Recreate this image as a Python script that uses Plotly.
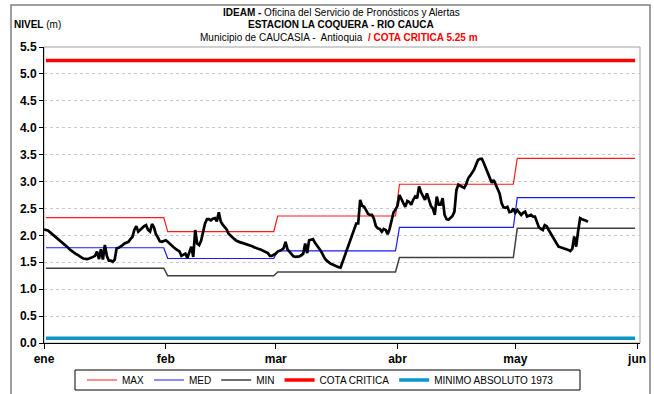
import pandas as pd
import plotly.graph_objects as go

# Monthly reference levels (m)
meses = ["ene", "feb", "mar", "abr", "may", "jun"]
nivel_max = [2.33, 2.07, 2.36, 2.95, 3.43]
nivel_med = [1.77, 1.57, 1.71, 2.15, 2.70]
nivel_min = [1.39, 1.25, 1.32, 1.59, 2.13]
cota_critica = 5.25
minimo_absoluto_1973 = 0.09

# Observed level, two readings per day from 1 January
nivel_observado = [
    2.11, 2.10, 2.09, 2.06, 2.03, 2.00, 1.96, 1.93, 1.91, 1.88, 1.85, 1.81, 1.78, 1.74,
    1.71, 1.69, 1.66, 1.64, 1.61, 1.59, 1.57, 1.56, 1.56, 1.57, 1.58, 1.60, 1.62, 1.70,
    1.56, 1.74, 1.55, 1.82, 1.62, 1.53, 1.53, 1.51, 1.55, 1.76, 1.77, 1.79, 1.82, 1.85,
    1.87, 1.88, 1.93, 1.97, 2.10, 2.17, 2.07, 2.11, 2.13, 2.17, 2.19, 2.10, 2.07, 2.21,
    2.15, 2.02, 1.96, 1.89, 1.88, 1.90, 1.91, 1.88, 1.84, 1.80, 1.78, 1.75, 1.73, 1.70,
    1.62, 1.64, 1.66, 1.58, 1.70, 1.79, 1.60, 2.10, 1.85, 1.82, 1.90, 2.05, 2.22, 2.30,
    2.30, 2.28, 2.31, 2.32, 2.26, 2.43, 2.26, 2.20, 2.16, 2.11, 2.03, 1.99, 1.96, 1.93,
    1.90, 1.88, 1.87, 1.86, 1.85, 1.84, 1.83, 1.81, 1.80, 1.78, 1.76, 1.75, 1.74, 1.72,
    1.71, 1.69, 1.67, 1.62, 1.62, 1.64, 1.66, 1.70, 1.71, 1.73, 1.76, 1.88, 1.74, 1.70,
    1.66, 1.61, 1.60, 1.60, 1.61, 1.63, 1.66, 1.85, 1.67, 1.91, 1.92, 1.93, 1.86, 1.82,
    1.76, 1.71, 1.64, 1.57, 1.53, 1.50, 1.47, 1.46, 1.44, 1.43, 1.41, 1.40, 1.50, 1.59,
    1.70, 1.78, 1.88, 2.00, 2.12, 2.22, 2.22, 2.66, 2.55, 2.53, 2.47, 2.40, 2.38, 2.38,
    2.31, 2.17, 2.13, 2.12, 2.07, 2.12, 2.10, 2.02, 2.12, 2.30, 2.43, 2.48, 2.55, 2.75,
    2.66, 2.60, 2.53, 2.64, 2.62, 2.57, 2.66, 2.72, 2.69, 2.91, 2.80, 2.72, 2.66, 2.78,
    2.65, 2.55, 2.50, 2.38, 2.72, 2.57, 2.57, 2.69, 2.38, 2.30, 2.29, 2.32, 2.36, 2.44,
    2.84, 2.94, 2.92, 2.90, 2.88, 2.95, 3.06, 3.11, 3.16, 3.22, 3.31, 3.40, 3.42, 3.42,
    3.34, 3.24, 3.14, 3.04, 2.98, 3.03, 2.95, 2.85, 2.78, 2.60, 2.52, 2.51, 2.53, 2.43,
    2.44, 2.50, 2.42, 2.47, 2.42, 2.38, 2.42, 2.44, 2.35, 2.36, 2.38, 2.35, 2.35, 2.25,
    2.15, 2.12, 2.10, 2.19, 2.17, 2.10, 2.04, 1.97, 1.91, 1.84, 1.79, 1.78, 1.77, 1.76,
    1.74, 1.73, 1.71, 1.75, 1.98, 1.79, 2.08, 2.32, 2.30, 2.29, 2.27, 2.25,
]

inicio = pd.Timestamp("2014-01-01")
fechas_obs = pd.date_range(inicio, periods=len(nivel_observado), freq="12h")
inicio_meses = pd.date_range(inicio, periods=len(meses), freq="MS")

# Step lines: each monthly value held from the first to the last day of its month
def escalones(valores):
    xs, ys = [], []
    for i, v in enumerate(valores):
        xs += [inicio_meses[i] + pd.Timedelta(hours=12),
               inicio_meses[i + 1] - pd.Timedelta(hours=12)]
        ys += [v, v]
    return xs, ys

tramo = [inicio + pd.Timedelta(hours=12), inicio_meses[-1] - pd.Timedelta(hours=12)]

FONT = "Liberation Sans Narrow, Arial Narrow, Liberation Sans, Arial, sans-serif"
TICKFONT = dict(family="Liberation Sans, Arial, sans-serif", size=12, color="black", weight="bold")

fig = go.Figure()

x, y = escalones(nivel_max)
fig.add_trace(go.Scatter(x=x, y=y, mode="lines", name="MAX",
                         line=dict(color="#ff1a1a", width=1.2)))
x, y = escalones(nivel_med)
fig.add_trace(go.Scatter(x=x, y=y, mode="lines", name="MED",
                         line=dict(color="#1a1aff", width=1.2)))
x, y = escalones(nivel_min)
fig.add_trace(go.Scatter(x=x, y=y, mode="lines", name="MIN",
                         line=dict(color="#404040", width=1.5)))
fig.add_trace(go.Scatter(x=tramo, y=[cota_critica] * 2, mode="lines", name="COTA CRITICA",
                         line=dict(color="#ff0000", width=3.5)))
fig.add_trace(go.Scatter(x=tramo, y=[minimo_absoluto_1973] * 2, mode="lines",
                         name="MINIMO ABSOLUTO 1973",
                         line=dict(color="#0a96c8", width=3.5)))
fig.add_trace(go.Scatter(x=fechas_obs, y=nivel_observado, mode="lines", name="NIVEL",
                         showlegend=False, line=dict(color="black", width=2.7)))

# Pixel helpers for paper coordinates (plot area 44..640 x 47..343)
W, H = 654, 394
L, R, T, B = 44, 640, 47, 343
px = lambda v: (v - L) / (R - L)
py = lambda v: (B - v) / (B - T)

shapes = [
    # outer chart frame
    dict(type="rect", xref="paper", yref="paper", x0=px(11), x1=px(650), y0=py(400), y1=py(5),
         line=dict(color="#808080", width=1.5), layer="below"),
    # plot area border
    dict(type="rect", xref="paper", yref="paper", x0=0, x1=1, y0=0, y1=1,
         line=dict(color="#a0a0a0", width=1), layer="below"),
    # legend box
    dict(type="rect", xref="paper", yref="paper", x0=px(75), x1=px(580), y0=py(390), y1=py(370),
         line=dict(color="black", width=1), layer="above"),
]

annotations = [
    dict(text="<b>IDEAM -</b> Oficina del Servicio de Pronósticos y Alertas",
         x=px(341), y=py(12), xref="paper", yref="paper", showarrow=False,
         xanchor="center", yanchor="middle", font=dict(family=FONT, size=10, color="black")),
    dict(text="<b>ESTACION LA COQUERA - RIO CAUCA</b>",
         x=px(341), y=py(25), xref="paper", yref="paper", showarrow=False,
         xanchor="center", yanchor="middle", font=dict(family=FONT, size=10, color="black")),
    dict(text="Municipio de CAUCASIA -  Antioquia  <b><span style='color:#ff0000'>/ COTA CRITICA 5.25 m</span></b>",
         x=px(339), y=py(38), xref="paper", yref="paper", showarrow=False,
         xanchor="center", yanchor="middle", font=dict(family=FONT, size=10, color="black")),
    dict(text="<b>NIVEL</b> (m)", x=px(12), y=py(25), xref="paper", yref="paper",
         showarrow=False, xanchor="left", yanchor="middle",
         font=dict(family=FONT, size=10, color="black")),
]

fig.update_layout(
    width=W, height=H,
    margin=dict(l=L, r=W - R, t=T, b=H - B, autoexpand=False),
    paper_bgcolor="white", plot_bgcolor="white",
    shapes=shapes, annotations=annotations,
    showlegend=True,
    legend=dict(orientation="h", x=px(82), y=py(380), xanchor="left", yanchor="middle",
                font=dict(family=FONT, size=10, color="black"),
                bgcolor="rgba(0,0,0,0)", borderwidth=0, traceorder="normal"),
    xaxis=dict(type="date", range=[inicio, inicio_meses[-1] + pd.Timedelta(hours=18)],
               tickvals=list(inicio_meses), ticktext=meses, tickfont=TICKFONT,
               ticks="outside", ticklen=5, tickcolor="black", showgrid=False,
               showline=True, linecolor="black", linewidth=1, zeroline=False),
    yaxis=dict(range=[0, 5.5], dtick=0.5, tick0=0, tickformat=".1f", tickfont=TICKFONT,
               ticks="outside", ticklen=4, tickcolor="black",
               showgrid=True, gridcolor="#c8c8c8", griddash="dot", gridwidth=1,
               showline=True, linecolor="black", linewidth=1, zeroline=False),
)

fig.write_html("out.html")
